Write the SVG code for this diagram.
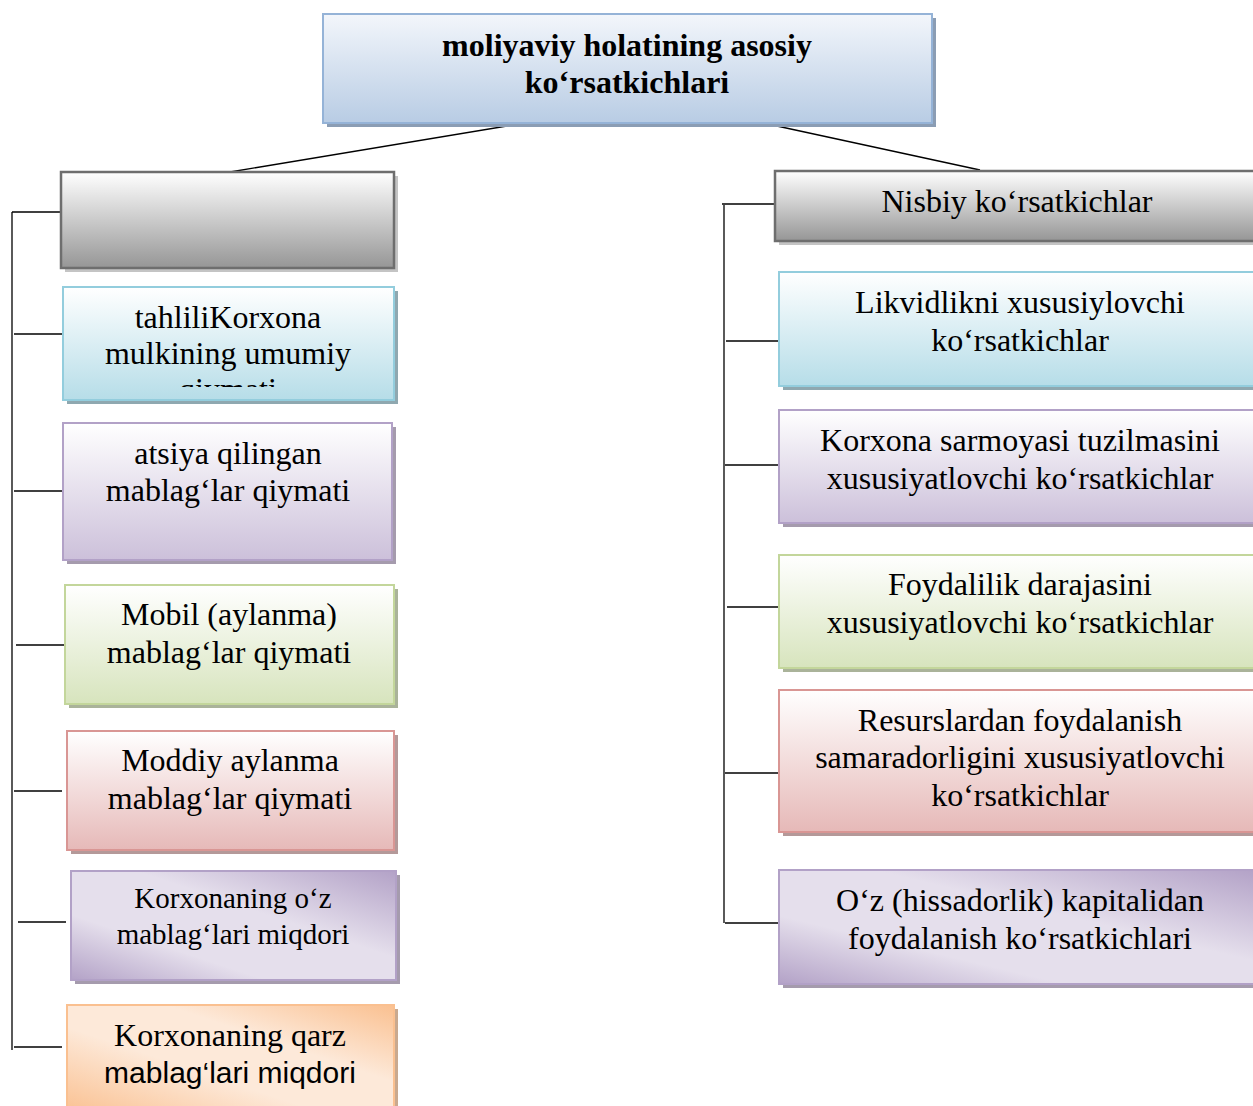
<svg xmlns="http://www.w3.org/2000/svg" width="1253" height="1106" viewBox="0 0 1253 1106">
<defs>
<style>
.t{font-family:"Liberation Serif","Times New Roman",serif;font-size:32px;fill:#000;text-anchor:middle}
.s{font-family:"Liberation Sans",Arial,sans-serif;font-size:30px;fill:#000;text-anchor:middle}
.b{font-weight:bold}
.c{stroke:#000;stroke-width:1.3;fill:none}
</style>
<linearGradient id="gBlue" x1="0" y1="0" x2="0" y2="1"><stop offset="0" stop-color="#f3f6fb"/><stop offset="1" stop-color="#b8cce4"/></linearGradient>
<linearGradient id="gGray" x1="0" y1="0" x2="0" y2="1"><stop offset="0" stop-color="#ffffff"/><stop offset="1" stop-color="#969696"/></linearGradient>
<linearGradient id="gCyan" x1="0" y1="0" x2="0" y2="1"><stop offset="0" stop-color="#ffffff"/><stop offset="1" stop-color="#b6dde8"/></linearGradient>
<linearGradient id="gPurp" x1="0" y1="0" x2="0" y2="1"><stop offset="0" stop-color="#ffffff"/><stop offset="1" stop-color="#ccc0da"/></linearGradient>
<linearGradient id="gGreen" x1="0" y1="0" x2="0" y2="1"><stop offset="0" stop-color="#ffffff"/><stop offset="1" stop-color="#d7e4bd"/></linearGradient>
<linearGradient id="gRed" x1="0" y1="0" x2="0" y2="1"><stop offset="0" stop-color="#ffffff"/><stop offset="1" stop-color="#e6b9b8"/></linearGradient>
<linearGradient id="gPurpD" x1="0" y1="1" x2="1" y2="0"><stop offset="0" stop-color="#b3a2c7"/><stop offset="0.3" stop-color="#e5dfec"/><stop offset="0.6" stop-color="#e5dfec"/><stop offset="1" stop-color="#b3a2c7"/></linearGradient>
<linearGradient id="gOrange" x1="0" y1="1" x2="1" y2="0"><stop offset="0" stop-color="#fac090"/><stop offset="0.4" stop-color="#fde9d9"/><stop offset="0.65" stop-color="#fde9d9"/><stop offset="1" stop-color="#fac090"/></linearGradient>
<clipPath id="clipCyan"><rect x="63" y="287" width="331" height="100"/></clipPath>
</defs>
<rect width="1253" height="1106" fill="#fff"/>

<g id="connectors">
<line class="c" x1="525" y1="123" x2="230" y2="172"/>
<line class="c" x1="763" y1="123" x2="980" y2="170"/>
<line class="c" x1="12" y1="212" x2="12" y2="1050"/>
<line class="c" x1="12" y1="212" x2="60" y2="212"/>
<line class="c" x1="14" y1="334" x2="62" y2="334"/>
<line class="c" x1="14" y1="491" x2="62" y2="491"/>
<line class="c" x1="16" y1="645" x2="64" y2="645"/>
<line class="c" x1="14" y1="791" x2="62" y2="791"/>
<line class="c" x1="18" y1="922" x2="66" y2="922"/>
<line class="c" x1="14" y1="1047" x2="62" y2="1047"/>
<line class="c" x1="724" y1="205" x2="724" y2="923"/>
<line class="c" x1="722" y1="204" x2="775" y2="204"/>
<line class="c" x1="726" y1="341" x2="779" y2="341"/>
<line class="c" x1="725" y1="465" x2="778" y2="465"/>
<line class="c" x1="727" y1="607" x2="780" y2="607"/>
<line class="c" x1="725" y1="773" x2="778" y2="773"/>
<line class="c" x1="725" y1="923" x2="778" y2="923"/>
</g>

<g id="root">
<rect x="327" y="18" width="609" height="109" fill="#8b9db4"/>
<rect x="323" y="14" width="609" height="109" fill="url(#gBlue)" stroke="#95b3d7" stroke-width="2"/>
<text class="t b" x="627" y="56">moliyaviy holatining asosiy</text>
<text class="t b" x="627" y="93">ko‘rsatkichlari</text>
</g>

<g id="left-head">
<rect x="65" y="176" width="333" height="96" fill="#c4c4c4"/>
<rect x="61" y="172" width="333" height="96" fill="url(#gGray)" stroke="#6e6e6e" stroke-width="2.5"/>
</g>

<g id="left-1">
<rect x="67" y="291" width="331" height="113" fill="#8fa8b0"/>
<rect x="63" y="287" width="331" height="113" fill="url(#gCyan)" stroke="#93cddd" stroke-width="2"/>
<g clip-path="url(#clipCyan)">
<text class="t" x="228" y="328">tahliliKorxona</text>
<text class="t" x="228" y="364">mulkining umumiy</text>
<text class="t" x="228" y="400">qiymati</text>
</g>
</g>

<g id="left-2">
<rect x="67" y="427" width="329" height="137" fill="#a59bad"/>
<rect x="63" y="423" width="329" height="137" fill="url(#gPurp)" stroke="#b2a1c7" stroke-width="2"/>
<text class="t" x="228" y="464">atsiya qilingan</text>
<text class="t" x="228" y="501">mablag‘lar qiymati</text>
</g>

<g id="left-3">
<rect x="69" y="589" width="329" height="119" fill="#aab39a"/>
<rect x="65" y="585" width="329" height="119" fill="url(#gGreen)" stroke="#c3d69b" stroke-width="2"/>
<text class="t" x="229" y="625">Mobil (aylanma)</text>
<text class="t" x="229" y="663">mablag‘lar qiymati</text>
</g>

<g id="left-4">
<rect x="71" y="735" width="327" height="119" fill="#b49999"/>
<rect x="67" y="731" width="327" height="119" fill="url(#gRed)" stroke="#d99694" stroke-width="2"/>
<text class="t" x="230" y="771">Moddiy aylanma</text>
<text class="t" x="230" y="809">mablag‘lar qiymati</text>
</g>

<g id="left-5">
<rect x="75" y="875" width="325" height="109" fill="#a59bad"/>
<rect x="71" y="871" width="325" height="109" fill="url(#gPurpD)" stroke="#b2a1c7" stroke-width="2"/>
<text class="t" x="233" y="908" style="font-size:29px">Korxonaning o‘z</text>
<text class="t" x="233" y="944" style="font-size:29px">mablag‘lari miqdori</text>
</g>

<g id="left-6">
<rect x="71" y="1009" width="327" height="110" fill="#c9a98f"/>
<rect x="67" y="1005" width="327" height="110" fill="url(#gOrange)" stroke="#fac090" stroke-width="2"/>
<text class="t" x="230" y="1046">Korxonaning qarz</text>
<text class="s" x="230" y="1083">mablag‘lari miqdori</text>
</g>

<g id="right-head">
<rect x="779" y="175" width="480" height="70" fill="#c4c4c4"/>
<rect x="775" y="171" width="480" height="70" fill="url(#gGray)" stroke="#6e6e6e" stroke-width="2.5"/>
<text class="t" x="1017" y="212">Nisbiy ko‘rsatkichlar</text>
</g>

<g id="right-1">
<rect x="783" y="276" width="476" height="114" fill="#8fa8b0"/>
<rect x="779" y="272" width="476" height="114" fill="url(#gCyan)" stroke="#93cddd" stroke-width="2"/>
<text class="t" x="1020" y="313">Likvidlikni xususiylovchi</text>
<text class="t" x="1020" y="351">ko‘rsatkichlar</text>
</g>

<g id="right-2">
<rect x="783" y="414" width="476" height="113" fill="#a59bad"/>
<rect x="779" y="410" width="476" height="113" fill="url(#gPurp)" stroke="#b2a1c7" stroke-width="2"/>
<text class="t" x="1020" y="451">Korxona sarmoyasi tuzilmasini</text>
<text class="t" x="1020" y="489">xususiyatlovchi ko‘rsatkichlar</text>
</g>

<g id="right-3">
<rect x="783" y="559" width="476" height="113" fill="#aab39a"/>
<rect x="779" y="555" width="476" height="113" fill="url(#gGreen)" stroke="#c3d69b" stroke-width="2"/>
<text class="t" x="1020" y="595">Foydalilik darajasini</text>
<text class="t" x="1020" y="633">xususiyatlovchi ko‘rsatkichlar</text>
</g>

<g id="right-4">
<rect x="783" y="694" width="476" height="142" fill="#b49999"/>
<rect x="779" y="690" width="476" height="142" fill="url(#gRed)" stroke="#d99694" stroke-width="2"/>
<text class="t" x="1020" y="731">Resurslardan foydalanish</text>
<text class="t" x="1020" y="768">samaradorligini xususiyatlovchi</text>
<text class="t" x="1020" y="806">ko‘rsatkichlar</text>
</g>

<g id="right-5">
<rect x="783" y="874" width="476" height="114" fill="#a59bad"/>
<rect x="779" y="870" width="476" height="114" fill="url(#gPurpD)" stroke="#b2a1c7" stroke-width="2"/>
<text class="t" x="1020" y="911">O‘z (hissadorlik) kapitalidan</text>
<text class="t" x="1020" y="949">foydalanish ko‘rsatkichlari</text>
</g>
</svg>
